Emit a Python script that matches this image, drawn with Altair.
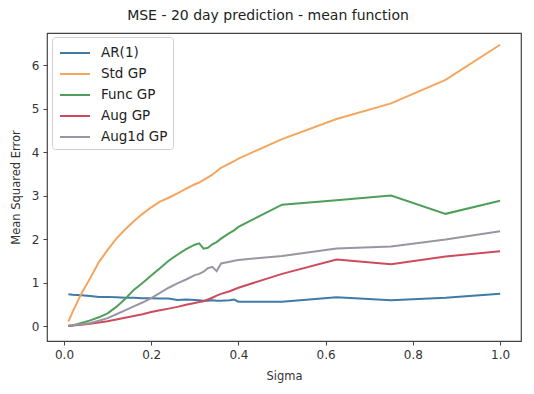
import altair as alt
import pandas as pd

sigma = [0.01, 0.02, 0.04, 0.06, 0.08, 0.10, 0.12, 0.14, 0.16, 0.18, 0.20, 0.22, 0.24, 0.26, 0.28,
         0.30, 0.31, 0.32, 0.33, 0.34, 0.35, 0.36, 0.38, 0.39, 0.40, 0.50, 0.625, 0.75, 0.875, 1.0]

ar1 = [0.73, 0.72, 0.71, 0.69, 0.67, 0.67, 0.66, 0.65, 0.65, 0.64, 0.64, 0.63, 0.63, 0.60, 0.61,
       0.60, 0.59, 0.58, 0.58, 0.59, 0.58, 0.58, 0.59, 0.61, 0.56, 0.56, 0.66, 0.59, 0.65, 0.74]
std_gp = [0.10, 0.33, 0.75, 1.10, 1.47, 1.75, 2.01, 2.22, 2.41, 2.58, 2.73, 2.86, 2.95, 3.05, 3.16,
          3.26, 3.30, 3.36, 3.42, 3.48, 3.56, 3.64, 3.74, 3.79, 3.85, 4.30, 4.76, 5.12, 5.66, 6.47]
func_gp = [0.00, 0.01, 0.07, 0.13, 0.20, 0.29, 0.44, 0.62, 0.83, 0.99, 1.16, 1.33, 1.50, 1.64, 1.77,
           1.87, 1.90, 1.78, 1.80, 1.88, 1.93, 2.01, 2.14, 2.20, 2.28, 2.79, 2.89, 3.00, 2.58, 2.88]
aug_gp = [0.00, 0.01, 0.03, 0.05, 0.08, 0.11, 0.15, 0.19, 0.23, 0.27, 0.32, 0.36, 0.40, 0.44, 0.49,
          0.53, 0.55, 0.57, 0.61, 0.65, 0.70, 0.74, 0.80, 0.84, 0.88, 1.20, 1.53, 1.42, 1.60, 1.72]
aug1d_gp = [0.01, 0.02, 0.04, 0.07, 0.12, 0.18, 0.27, 0.36, 0.45, 0.54, 0.64, 0.76, 0.88, 0.98, 1.07,
            1.17, 1.20, 1.25, 1.33, 1.36, 1.26, 1.44, 1.48, 1.50, 1.52, 1.61, 1.78, 1.83, 1.99, 2.18]

series_names = ["AR(1)", "Std GP", "Func GP", "Aug GP", "Aug1d GP"]
series_values = [ar1, std_gp, func_gp, aug_gp, aug1d_gp]
series_colors = ["#3f7ba6", "#f2a65e", "#4f9e5a", "#cc4b5c", "#9b94a2"]

x_ticks = [0.0, 0.2, 0.4, 0.6, 0.8, 1.0]
y_ticks = [0, 1, 2, 3, 4, 5, 6]

rows = []
for name, vals in zip(series_names, series_values):
    for i, (s, v) in enumerate(zip(sigma, vals)):
        rows.append({"Sigma": s, "MSE": v, "Series": name, "order": i})
df = pd.DataFrame(rows)

font = "DejaVu Sans"

chart = alt.Chart(df).mark_line(strokeWidth=2).encode(
    x=alt.X("Sigma:Q",
            scale=alt.Scale(domain=[-0.039, 1.048], nice=False, zero=False),
            axis=alt.Axis(title="Sigma", values=x_ticks, format=".1f", grid=False,
                          domain=False, tickSize=4, labelPadding=4, titlePadding=10)),
    y=alt.Y("MSE:Q",
            scale=alt.Scale(domain=[-0.345, 6.74], nice=False, zero=False),
            axis=alt.Axis(title="Mean Squared Error", values=y_ticks, format="d", grid=False,
                          domain=False, tickSize=4, labelPadding=4, titlePadding=10)),
    color=alt.Color("Series:N",
                    scale=alt.Scale(domain=series_names, range=series_colors),
                    legend=alt.Legend(title=None, orient="none", legendX=5, legendY=4,
                                      symbolType="M-1.5,0H1.5", symbolSize=400,
                                      symbolStrokeWidth=2, symbolFillColor="transparent",
                                      symbolOffset=7,
                                      labelFontSize=13.5, labelFont=font, labelColor="#222",
                                      labelOffset=15, padding=5, rowPadding=3,
                                      strokeColor="#d0d0d0", fillColor="white",
                                      cornerRadius=3)),
    order="order:Q",
).properties(
    width=474,
    height=308,
    title=alt.TitleParams("MSE - 20 day prediction - mean function", fontSize=14,
                          font=font, fontWeight="normal", color="#222",
                          anchor="middle", dx=-16, offset=10),
    autosize=alt.AutoSizeParams(type="none"),
    padding={"left": 39, "top": 25, "right": 5, "bottom": 45},
).configure_view(
    stroke="#444", strokeWidth=1.2
).configure_axis(
    labelFont=font, titleFont=font, labelFontSize=12, titleFontSize=11.5,
    labelColor="#333", titleColor="#333", tickColor="#444", titleFontWeight="normal"
)

chart.save("out.html", embed_options={"renderer": "svg", "actions": False})
